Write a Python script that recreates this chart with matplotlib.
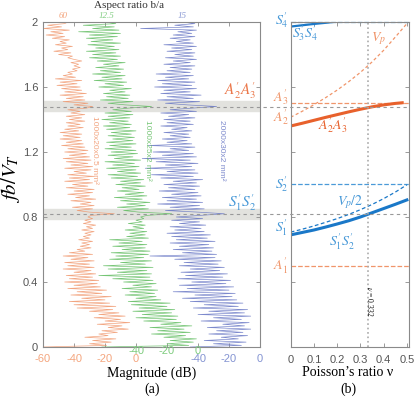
import numpy as np
import matplotlib
matplotlib.use('Agg')
import matplotlib.pyplot as plt
import matplotlib.transforms as mtransforms
from matplotlib.lines import Line2D

plt.rcParams['mathtext.fontset'] = 'stix'
plt.rcParams['font.family'] = ['Liberation Sans', 'DejaVu Sans']

# ---------------- (a) measured spectra ----------------
# frequency axis fb/V_T, one sample every 0.01
freq = np.linspace(0, 2, 201)

# magnitude (dB), plate 1000x20x0.5 mm (b/a = 60)
mag_60 = [
    -60, -19, -30, -16, -28, -13, -33, -18, -24, -12,
    -22, -5, -18, -9, -25, -4, -20, -10, -27, -7,
    -24, -11, -30, -15, -38, -13, -40, -17, -43, -20,
    -35, -16, -42, -22, -38, -19, -44, -23, -40, -25,
    -46, -24, -43, -28, -45, -26, -40, -29, -47, -27,
    -44, -30, -46, -27, -42, -31, -47, -28, -43, -33,
    -38, -29, -36, -30, -35, -28, -37, -30, -34, -29,
    -33, -27, -35, -28, -32, -26, -34, -29, -33, -28,
    -31, -29, -14, -30, -38, -28, -41, -27, -36, -29,
    -42, -26, -39, -30, -44, -28, -40, -27, -45, -31,
    -41, -28, -46, -30, -43, -27, -44, -32, -40, -29,
    -46, -28, -42, -31, -45, -29, -47, -30, -43, -32,
    -46, -31, -44, -33, -48, -34, -45, -35, -49, -36,
    -47, -35, -49, -37, -46, -34, -44, -36, -45, -33,
    -43, -35, -45, -33, -42, -36, -44, -32, -28, -40,
    -31, -47, -33, -45, -34, -49, -32, -46, -35, -48,
    -36, -51, -38, -49, -35, -52, -39, -47, -41, -44,
    -38, -41, -36, -40, -37, -42, -35, -40, -44, -41,
    -50, -42, -53, -44, -48, -41, -52, -45, -49, -43,
    -54, -46, -58, -47, -55, -43, -60, -48, -57, -46,
    -44]

# magnitude (dB), plate 1000x25x2 mm (b/a = 12.5)
mag_125 = [
    -62, -6, -20, -3, -18, -1, -22, -8, -30, -5,
    -26, -9, -31, -4, -24, -11, -35, -14, -40, -13,
    -36, -17, -42, -15, -38, -20, -43, -18, -45, -24,
    -40, -27, -47, -28, -44, -26, -49, -30, -42, -27,
    -48, -29, -55, -31, -64, -30, -52, -33, -58, -29,
    -61, -34, -50, -30, -57, -35, -53, -32, -56, -31,
    -49, -34, -55, -33, -51, -36, -57, -32, -46, -34,
    -44, -33, -47, -35, -42, -34, -45, -36, -40, -35,
    -37, -33, -17, -38, -48, -32, -52, -34, -46, -31,
    -50, -36, -54, -33, -47, -35, -52, -38, -49, -34,
    -53, -37, -50, -35, -56, -39, -58, -37, -52, -40,
    -59, -38, -55, -41, -60, -37, -54, -42, -58, -39,
    -56, -40, -60, -43, -57, -40, -59, -42, -55, -41,
    -58, -43, -56, -40, -59, -44, -61, -43, -57, -45,
    -62, -44, -58, -42, -60, -43, -55, -45, -30, -47,
    -58, -42, -63, -45, -59, -44, -61, -47, -57, -43,
    -64, -48, -60, -46, -67, -49, -62, -47, -68, -50,
    -63, -48, -66, -51, -61, -47, -65, -52, -70, -50,
    -68, -53, -72, -51, -66, -54, -71, -50, -69, -55,
    -72, -52, -70, -50, -77, -51, -68, -54, -74, -53,
    -60]

# magnitude (dB), plate 2000x30x2 mm (b/a = 15)
mag_15 = [
    -45, -12, -30, -9, -36, -14, -25, -8, -33, -11,
    -28, -6, -34, -10, -24, -7, -38, -12, -30, -6,
    -40, -10, -33, -8, -43, -14, -36, -11, -45, -15,
    -50, -18, -42, -16, -56, -20, -47, -17, -52, -22,
    -44, -19, -53, -24, -48, -21, -51, -26, -45, -23,
    -52, -27, -49, -25, -55, -29, -71, -28, -50, -31,
    -56, -30, -52, -33, -58, -29, -54, -34, -57, -32,
    -60, -36, -55, -38, -58, -35, -52, -39, -57, -37,
    -54, -38, -23, -40, -61, -36, -58, -39, -66, -37,
    -60, -41, -63, -38, -57, -40, -65, -42, -59, -39,
    -62, -41, -56, -37, -64, -43, -70, -40, -60, -42,
    -74, -44, -61, -40, -67, -45, -76, -41, -63, -43,
    -69, -46, -58, -42, -72, -44, -60, -47, -63, -45,
    -58, -46, -62, -44, -57, -47, -64, -43, -60, -45,
    -62, -42, -59, -46, -64, -41, -58, -44, -28, -47,
    -61, -39, -66, -43, -60, -38, -64, -45, -62, -41,
    -68, -44, -63, -42, -66, -46, -61, -43, -67, -45,
    -60, -44, -58, -42, -62, -45, -56, -41, -61, -43,
    -55, -42, -60, -44, -57, -41, -62, -43, -54, -45,
    -58, -42, -56, -44, -53, -41, -77, -43, -55, -42,
    -50]

spectra_names = ['1000x20x0.5 mm²', '1000x25x2 mm²', '2000x30x2 mm²']
aspect_ratios = ['60', '12.5', '15']
tick_labels_60 = ['-60', '-40', '-20', '0']
tick_labels_125 = ['-40', '-20', '0']
tick_labels_15 = ['-40', '-20', '0']

# identified resonances (fb/V_T)
peak_A = 1.479
peak_S = 0.817
band_A = (1.452, 1.512)
band_S = (0.785, 0.847)

# ---------------- (b) dispersion vs Poisson's ratio ----------------
nu = [0, 0.05, 0.1, 0.15, 0.2, 0.25, 0.3, 0.35, 0.4, 0.45, 0.5]
vp = [1.414, 1.451, 1.491, 1.534, 1.581, 1.633, 1.69, 1.754, 1.826, 1.907, 1.99]
vp_half = [0.707, 0.725, 0.745, 0.767, 0.79, 0.816, 0.845, 0.877, 0.913, 0.953, 0.998]
s1s2 = [0.69, 0.705, 0.72, 0.738, 0.757, 0.777, 0.8, 0.826, 0.852, 0.878, 0.905]
nu_a = [0, 0.05, 0.1, 0.15, 0.2, 0.25, 0.3, 0.35, 0.4, 0.45, 0.48]
a2a3 = [1.36, 1.377, 1.395, 1.413, 1.43, 1.447, 1.463, 1.478, 1.49, 1.499, 1.503]
nu_s = [0, 0.05, 0.1, 0.15, 0.2]
s3s4 = [1.972, 1.98, 1.988, 1.995, 2.003]
level_A1 = 0.5
level_A3 = 1.5
level_S2 = 1.0
level_S4 = 1.998
nu_al = 0.332

# colours
c_or = '#F0956A'
c_gr = '#5DBB5D'
c_bl = '#6675C4'
t_or = '#F4A67F'
t_gr = '#7FCC7F'
t_bl = '#8494D2'
c_or2 = '#E8612C'
c_bl2 = '#1A78C8'
c_bl3 = '#4A9AD8'
gray = '#8a8a8a'
serif = 'Liberation Serif'

fig = plt.figure(figsize=(4.15, 3.98), dpi=100)
ax = fig.add_axes([43/415, 1-347/398, 217/415, 325/398])
ax2 = fig.add_axes([290.7/415, 1-347/398, 118.5/415, 325/398])

# ---------- panel (a) ----------
offsets = [0, 40, 80]
ax.axhspan(band_A[0], band_A[1], color='#e2e2de', zorder=0)
ax.axhspan(band_S[0], band_S[1], color='#e2e2de', zorder=0)
for mag, off, col in zip([mag_60, mag_125, mag_15], offsets, [c_or, c_gr, c_bl]):
    ax.plot(np.array(mag) + off, freq, color=col, lw=0.5, alpha=0.85)

ax.set_xlim(-60, 80)
ax.set_ylim(0, 2)
ax.set_xticks(np.arange(-60, 81, 20))
ax.set_xticklabels([])
ax.set_yticks([0, 0.4, 0.8, 1.2, 1.6, 2])
ax.set_yticklabels(['0', '0.4', '0.8', '1.2', '1.6', '2'])
ax.tick_params(direction='in', top=True, right=True, length=3, width=0.6,
               color=gray, labelcolor='#555555', labelsize=8)
for s in ax.spines.values():
    s.set_color(gray)
    s.set_linewidth(0.8)

# coloured x tick labels (three scales)
trans = mtransforms.blended_transform_factory(ax.transData, ax.transAxes)
for i, lab in enumerate(tick_labels_60):
    ax.text(-60 + 20*i, -0.038, lab, transform=trans, ha='center', va='center',
            color=t_or, fontsize=8)
for i, lab in enumerate(tick_labels_125):
    ax.text(0 + 20*i, -0.011, lab, transform=trans, ha='center', va='center',
            color=t_gr, fontsize=8)
for i, lab in enumerate(tick_labels_15):
    ax.text(40 + 20*i, -0.038, lab, transform=trans, ha='center', va='center',
            color=t_bl, fontsize=8)

# aspect ratio labels on top
for xpos, lab, col in zip([-47, -18.7, 29.7], aspect_ratios, [t_or, t_gr, t_bl]):
    ax.text(xpos, 1.017, lab, transform=trans, ha='center', va='center',
            color=col, fontsize=6.5, family=serif, style='italic')
fig.text(129/415, 1-5/398, 'Aspect ratio b/a', ha='center', va='center',
         fontsize=8, family=serif, color='#333333')

# plate dimensions
for xpos, lab, col in zip([-26.5, 7.5, 55.3], spectra_names, [c_or, c_gr, c_bl]):
    ax.text(xpos, 1.21, lab, rotation=-90, ha='center', va='center',
            color=col, fontsize=6, alpha=0.85)

ax.text(67, 1.575, r"$A_2^{\prime}A_3^{\prime}$", color=c_or2, ha='center',
        va='center', fontsize=11, alpha=0.85)
ax.text(68.5, 0.886, r"$S_1^{\prime}S_2^{\prime}$", color=c_bl3, ha='center',
        va='center', fontsize=11)

# dashed resonance lines across both panels
for v in [peak_A, peak_S]:
    yf = 1 - (347 - v*162.5)/398
    fig.add_artist(Line2D([43/415, 409/415], [yf, yf], ls=(0, (3, 3)),
                          color='#999999', lw=0.8))

fig.text(11/415, 1-178/398, r'$fb/V_T$', rotation=90, ha='center',
         va='center', fontsize=15)
fig.text(152/415, 1-373/398, 'Magnitude (dB)', ha='center', va='center',
         fontsize=10, family=serif)
fig.text(152/415, 1-389/398, '(a)', ha='center', va='center',
         fontsize=10, family=serif)

# ---------- panel (b) ----------
ax2.axhline(level_A1, color=c_or, ls='--', lw=0.9)
ax2.axhline(level_A3, color=c_or, ls='--', lw=0.9)
ax2.axhline(level_S2, color=c_bl3, ls='--', lw=0.9)
ax2.axhline(level_S4, color=c_bl3, ls='--', lw=0.9, clip_on=False)
ax2.plot(nu, vp, color=c_or, ls=(0, (2.5, 2)), lw=0.9)
ax2.plot(nu, vp_half, color=c_bl2, ls=(0, (3, 2)), lw=0.9)
ax2.plot(nu, s1s2, color=c_bl2, lw=2.2)
ax2.plot(nu_a, a2a3, color=c_or2, lw=2.2)
ax2.plot(nu_s, s3s4, color=c_bl2, lw=1.6)
ax2.axvline(nu_al, color='#aaaaaa', ls=':', lw=1.2)
ax2.text(nu_al + 0.01, 0.283, r'$\nu$ = 0.332', rotation=-90, ha='center',
         va='center', fontsize=5.5, family=serif)

ax2.set_xlim(0, 0.51)
ax2.set_ylim(0, 2)
ax2.set_xticks([0, 0.1, 0.2, 0.3, 0.4, 0.5])
ax2.set_xticklabels(['0', '0.1', '0.2', '0.3', '0.4', '0.5'])
ax2.set_yticks([0, 0.4, 0.8, 1.2, 1.6, 2])
ax2.set_yticklabels([])
ax2.tick_params(direction='in', top=True, right=True, length=3, width=0.6,
                color=gray, labelcolor='#555555', labelsize=8, pad=6)
for s in ax2.spines.values():
    s.set_color(gray)
    s.set_linewidth(0.8)

trans2 = mtransforms.blended_transform_factory(ax2.transAxes, ax2.transData)
side_labels = [(2.012, r"$S_4^{\prime}$", c_bl3), (1.54, r"$A_3^{\prime}$", c_or),
               (1.415, r"$A_2^{\prime}$", c_or), (1.003, r"$S_2^{\prime}$", c_bl3),
               (0.732, r"$S_1^{\prime}$", c_bl3), (0.5, r"$A_1^{\prime}$", c_or)]
for v, lab, col in side_labels:
    ax2.text(-0.02, v, lab, transform=trans2, ha='right', va='center',
             color=col, fontsize=10)

ax2.text(0.062, 1.93, r"$S_3^{\prime}S_4^{\prime}$", color=c_bl3, ha='center',
         va='center', fontsize=10)
ax2.text(0.376, 1.90, r"$V_p$", color=c_or, ha='center', va='center', fontsize=10)
ax2.text(0.18, 1.366, r"$A_2^{\prime}A_3^{\prime}$", color=c_or2, ha='center',
         va='center', fontsize=10)
ax2.text(0.255, 0.89, r"$V_p/2$", color=c_bl3, ha='center', va='center', fontsize=10)
ax2.text(0.22, 0.646, r"$S_1^{\prime}S_2^{\prime}$", color=c_bl3, ha='center',
         va='center', fontsize=10)

fig.text(348/415, 1-373/398, 'Poisson\u2019s ratio \u03bd', ha='center',
         va='center', fontsize=10, family=serif)
fig.text(348/415, 1-389/398, '(b)', ha='center', va='center',
         fontsize=10, family=serif)

fig.savefig('out.png', dpi=100)
